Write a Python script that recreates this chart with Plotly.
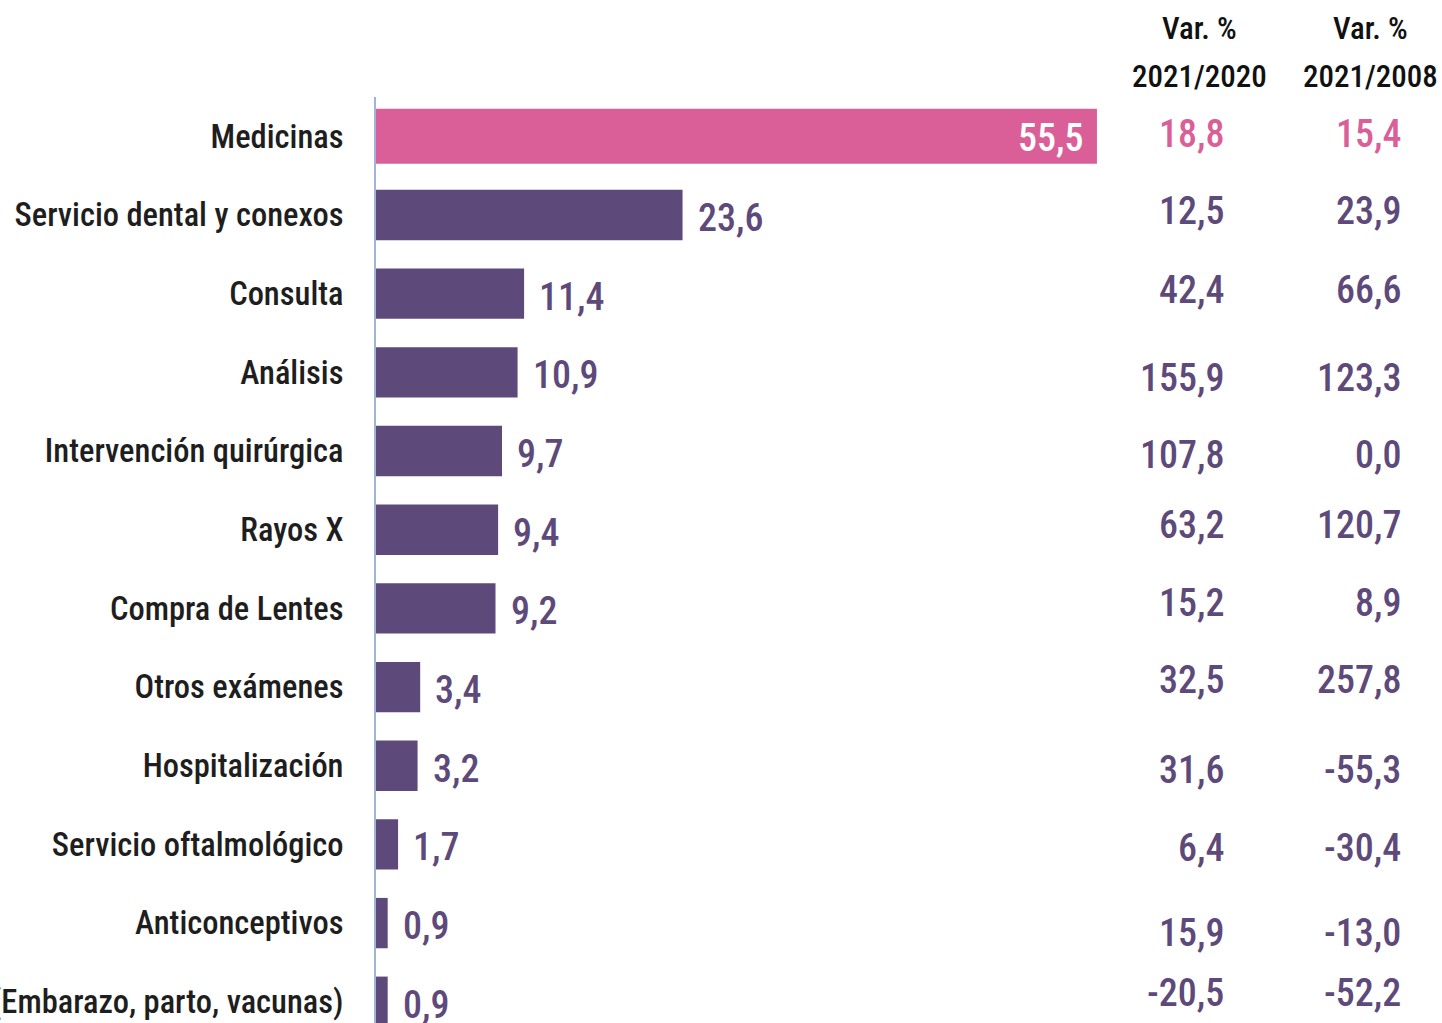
import plotly.graph_objects as go

categories = [
    "Medicinas", "Servicio dental y conexos", "Consulta", "Análisis",
    "Intervención quirúrgica", "Rayos X", "Compra de Lentes", "Otros exámenes",
    "Hospitalización", "Servicio oftalmológico", "Anticonceptivos",
    "(Embarazo, parto, vacunas)",
]
shares = [55.5, 23.6, 11.4, 10.9, 9.7, 9.4, 9.2, 3.4, 3.2, 1.7, 0.9, 0.9]
var_2021_2020 = [18.8, 12.5, 42.4, 155.9, 107.8, 63.2, 15.2, 32.5, 31.6, 6.4, 15.9, -20.5]
var_2021_2008 = [15.4, 23.9, 66.6, 123.3, 0.0, 120.7, 8.9, 257.8, -55.3, -30.4, -13.0, -52.2]
col_headers = [["Var. %", "2021/2020"], ["Var. %", "2021/2008"]]

# layout / style settings
W, H = 1442, 1023
L, R, T, B = 376, 0, 97, 0
PINK = "#DA5F98"
PURPLE = "#5E4A7A"
FONT = "Roboto Condensed, Carlito, sans-serif"
bar_widths = [0.70] + [0.64] * 11
var_row_shift = [2, 4, 4, -6, -4, 5, 5, 7, -4, -4, -10, 9]


def fmt(v):
    return f"{v:.1f}".replace(".", ",")


def px(p):
    return (p - L) / (W - L - R)


colors = [PINK] + [PURPLE] * (len(categories) - 1)

fig = go.Figure(go.Bar(
    x=shares, y=categories, orientation="h",
    marker=dict(color=colors, line=dict(width=0)),
    width=bar_widths, hoverinfo="skip",
))

ann = []
for i, (c, v) in enumerate(zip(categories, shares)):
    if i == 0:
        ann.append(dict(x=v, y=c, xref="x", yref="y", text=fmt(v), showarrow=False,
                        xanchor="right", xshift=-12, yshift=-2,
                        font=dict(family=FONT, size=38, color="white", weight=500)))
    else:
        ann.append(dict(x=v, y=c, xref="x", yref="y", text=fmt(v), showarrow=False,
                        xanchor="left", xshift=13, yshift=-3,
                        font=dict(family=FONT, size=38, color=PURPLE, weight=500)))
    col = colors[i]
    ann.append(dict(x=px(1226), y=c, xref="paper", yref="y", text=fmt(var_2021_2020[i]),
                    showarrow=False, xanchor="right", yshift=var_row_shift[i],
                    font=dict(family=FONT, size=38, color=col, weight=500)))
    ann.append(dict(x=px(1403), y=c, xref="paper", yref="y", text=fmt(var_2021_2008[i]),
                    showarrow=False, xanchor="right", yshift=var_row_shift[i],
                    font=dict(family=FONT, size=38, color=col, weight=500)))

for xc, hdr in zip([1199, 1370], col_headers):
    ann.append(dict(x=px(xc), y=1, xref="paper", yref="paper", text=hdr[0], showarrow=False,
                    xanchor="center", yanchor="middle", yshift=T - 28,
                    font=dict(family=FONT, size=31, color="#111111", weight=500)))
    ann.append(dict(x=px(xc), y=1, xref="paper", yref="paper", text=hdr[1], showarrow=False,
                    xanchor="center", yanchor="middle", yshift=T - 76,
                    font=dict(family=FONT, size=31, color="#111111", weight=500)))

fig.update_layout(
    width=W, height=H,
    margin=dict(l=L, r=R, t=T, b=B, pad=0),
    paper_bgcolor="white", plot_bgcolor="white",
    showlegend=False,
    bargap=0.35,
    annotations=ann,
    xaxis=dict(range=[0, (W - L - R) / 12.99], visible=False, automargin=False),
    yaxis=dict(type="category", range=[11.27, -0.5], autorange=False,
               showline=True, linecolor="#9FB4D8", linewidth=2,
               showgrid=False, zeroline=False, ticks="",
               ticklabelstandoff=24, automargin=False,
               tickfont=dict(family=FONT, size=32.5, color="#1E1E1E", weight=500)),
)

fig.write_html("out.html", config={"displayModeBar": False},
               post_script="document.body.style.margin='0';")
